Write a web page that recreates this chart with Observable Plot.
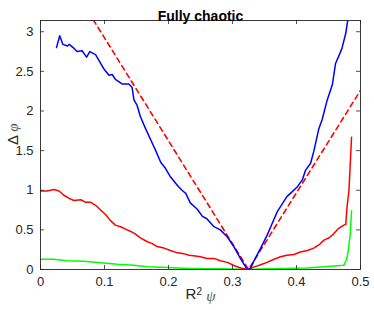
<!DOCTYPE html>
<html><head><meta charset="utf-8">
<script src="https://cdn.jsdelivr.net/npm/d3@7"></script>
<script src="https://cdn.jsdelivr.net/npm/@observablehq/plot@0.6"></script>
<style>body{margin:0;background:#fff;} svg{font-family:"Liberation Sans",Arial,sans-serif;}</style>
</head><body><div id="chart"></div>
<script>
const blueX = [0.025,0.030,0.035,0.042,0.045,0.051,0.057,0.065,0.072,0.077,0.086,0.094,0.100,0.107,0.112,0.117,0.128,0.138,0.143,0.146,0.151,0.156,0.164,0.172,0.180,0.188,0.195,0.203,0.214,0.221,0.227,0.234,0.245,0.253,0.260,0.271,0.281,0.292,0.302,0.313,0.323,0.328,0.333,0.344,0.354,0.362,0.370,0.378,0.385,0.393,0.401,0.409,0.414,0.422,0.427,0.435,0.440,0.448,0.456,0.461,0.468,0.471,0.477,0.482];
const blueY = [2.80,2.95,2.84,2.82,2.84,2.80,2.75,2.76,2.68,2.75,2.71,2.60,2.52,2.45,2.46,2.40,2.34,2.34,2.30,2.14,2.07,1.93,1.78,1.64,1.50,1.35,1.28,1.17,1.06,1.00,0.96,0.84,0.76,0.67,0.64,0.54,0.50,0.41,0.29,0.13,0.0,0.01,0.10,0.27,0.43,0.58,0.73,0.83,0.92,0.98,1.04,1.13,1.25,1.34,1.49,1.78,1.89,2.14,2.33,2.60,2.73,2.79,2.98,3.25];
const redX = [0,0.010,0.021,0.029,0.036,0.044,0.052,0.063,0.070,0.078,0.086,0.094,0.102,0.109,0.117,0.125,0.133,0.141,0.148,0.156,0.167,0.174,0.182,0.193,0.203,0.214,0.224,0.232,0.242,0.250,0.260,0.271,0.281,0.292,0.302,0.313,0.323,0.333,0.344,0.354,0.365,0.375,0.385,0.396,0.406,0.417,0.427,0.435,0.443,0.451,0.458,0.466,0.474,0.477,0.479,0.482,0.486];
const redY = [0.99,0.99,1.01,0.99,0.94,0.90,0.87,0.88,0.85,0.85,0.81,0.75,0.69,0.62,0.56,0.54,0.51,0.48,0.45,0.40,0.35,0.33,0.29,0.27,0.24,0.21,0.20,0.18,0.17,0.16,0.14,0.14,0.11,0.09,0.05,0.02,0.0,0.03,0.06,0.09,0.13,0.16,0.18,0.19,0.22,0.24,0.27,0.31,0.37,0.40,0.45,0.52,0.56,0.57,0.79,1.00,1.67];
const greenX = [0,0.021,0.042,0.068,0.094,0.120,0.146,0.167,0.198,0.224,0.250,0.276,0.302,0.323,0.344,0.380,0.417,0.443,0.474,0.478,0.481,0.484,0.486];
const greenY = [0.13,0.13,0.11,0.105,0.085,0.067,0.055,0.034,0.025,0.017,0.010,0.010,0.005,0.0,0.005,0.012,0.020,0.034,0.055,0.12,0.24,0.45,0.74];
const dashX = [0.0825,0.325,0.5];
const dashY = [3.15,0,2.26];
const xTicks = [0,0.1,0.2,0.3,0.4,0.5];
const yTicks = [0,0.5,1,1.5,2,2.5,3];
const yMax = Math.PI;

const toRows = (xs, ys) => xs.map((x, i) => ({x, y: ys[i]}));
const blue = toRows(blueX, blueY), red = toRows(redX, redY), green = toRows(greenX, greenY), dash = toRows(dashX, dashY);
const ink = "#262626";
const tl = 4;
const fmt = d => String(d);
const serif = "Liberation Serif, DejaVu Serif, serif";
const plot = Plot.plot({
  width: 374, height: 310,
  marginLeft: 40, marginRight: 14, marginTop: 20, marginBottom: 41,
  x: {domain: [0, 0.5]},
  y: {domain: [0, yMax]},
  style: {fontSize: "13px", color: ink, fontFamily: "Liberation Sans, Arial, sans-serif"},
  marks: [
    Plot.axisX(xTicks, {tickSize: 0, tickPadding: 7, fontSize: 13, fill: ink, label: null, tickFormat: fmt}),
    Plot.axisY(yTicks, {tickSize: 0, tickPadding: 7, fontSize: 13, fill: ink, label: null, tickFormat: fmt}),
    Plot.line(dash, {x: "x", y: "y", stroke: "#ff0000", strokeWidth: 1.6, strokeDasharray: "5,4", clip: true}),
    Plot.line(green, {x: "x", y: "y", stroke: "#00ff00", strokeWidth: 1.5, clip: true}),
    Plot.line(red, {x: "x", y: "y", stroke: "#ff0000", strokeWidth: 1.5, clip: true}),
    Plot.line(blue, {x: "x", y: "y", stroke: "#0000ff", strokeWidth: 1.5, clip: true}),
    Plot.ruleX(xTicks, {x: d => d, y1: 0, y2: yMax * tl / 249, stroke: ink, strokeWidth: 0.8}),
    Plot.ruleX(xTicks, {x: d => d, y1: yMax, y2: yMax * (1 - tl / 249), stroke: ink, strokeWidth: 0.8}),
    Plot.ruleY(yTicks, {y: d => d, x1: 0, x2: 0.5 * tl / 320, stroke: ink, strokeWidth: 0.8}),
    Plot.ruleY(yTicks, {y: d => d, x1: 0.5, x2: 0.5 * (1 - tl / 320), stroke: ink, strokeWidth: 0.8}),
    Plot.frame({stroke: ink, strokeWidth: 0.9}),
    Plot.text(["Fully chaotic"], {frameAnchor: "top", dy: -9, fontWeight: "bold", fontSize: 14, fill: "#000"}),
    Plot.text(["R2 ψ"], {frameAnchor: "bottom", dy: 29, fontSize: 15, fill: ink, className: "xlab"}),
    Plot.text(["Δ φ"], {frameAnchor: "left", dx: -27, rotate: -90, fontSize: 15, fill: ink, className: "ylab"})
  ]
});
document.getElementById("chart").appendChild(plot);
// style the symbol parts of the axis labels
const xl = d3.select(plot).select(".xlab text");
xl.text(null);
xl.append("tspan").text("R");
xl.append("tspan").attr("dy", "-0.4em").attr("font-size", "10px").text("2");
xl.append("tspan").attr("dy", "0.4em").text(" ");
xl.append("tspan").attr("font-style", "italic").attr("font-family", serif).attr("fill", "#555").text("ψ");
const yl = d3.select(plot).select(".ylab text");
yl.text(null);
yl.append("tspan").text("Δ ");
yl.append("tspan").attr("font-style", "italic").attr("font-family", serif).attr("fill", "#555").text("φ");
</script></body></html>
